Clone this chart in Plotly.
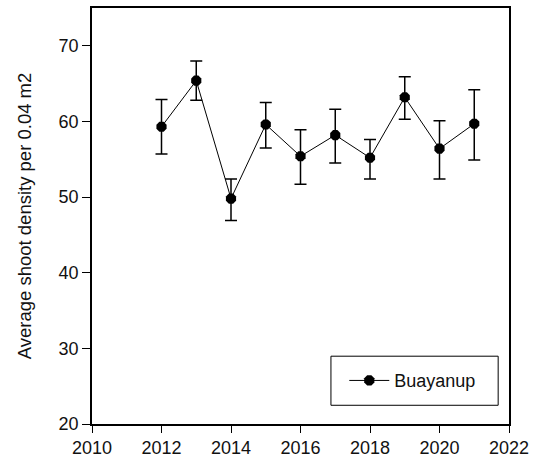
import plotly.graph_objects as go

# Annual mean shoot density with error bars
years = [2012, 2013, 2014, 2015, 2016, 2017, 2018, 2019, 2020, 2021]
density = [59.3, 65.4, 49.8, 59.6, 55.4, 58.2, 55.2, 63.2, 56.4, 59.7]
err_plus = [3.6, 2.6, 2.6, 2.9, 3.5, 3.4, 2.4, 2.7, 3.7, 4.5]
err_minus = [3.6, 2.6, 2.9, 3.1, 3.7, 3.7, 2.8, 2.9, 4.0, 4.8]
site_name = "Buayanup"

x_ticks = [2010, 2012, 2014, 2016, 2018, 2020, 2022]
y_ticks = [20, 30, 40, 50, 60, 70]

fig = go.Figure()
fig.add_trace(go.Scatter(
    x=years, y=density, name=site_name, mode="lines+markers",
    line=dict(color="black", width=1),
    marker=dict(symbol="octagon", size=11, color="black"),
    error_y=dict(type="data", symmetric=False, array=err_plus, arrayminus=err_minus,
                 color="black", thickness=1.5, width=6),
))

axis_font = dict(family="Liberation Sans, Arial, sans-serif", size=18, color="#111111")

# Framed legend box drawn behind the legend entry
fig.add_shape(type="rect", xref="paper", yref="paper",
              x0=0.573, x1=0.974, y0=0.045, y1=0.163,
              line=dict(color="black", width=1), fillcolor="white", layer="below")

fig.update_layout(
    width=535, height=468,
    margin=dict(l=92, r=26, t=6, b=44),
    plot_bgcolor="white", paper_bgcolor="white",
    font=axis_font,
    showlegend=True,
    legend=dict(x=0.605, y=0.104, xanchor="left", yanchor="middle",
                borderwidth=0, bgcolor="rgba(0,0,0,0)",
                font=dict(size=18), itemwidth=40),
    xaxis=dict(range=[2010, 2022], tickvals=x_ticks, ticks="outside", ticklen=7,
               tickcolor="black", showline=True, linecolor="black", linewidth=1.5,
               mirror=True, showgrid=False, zeroline=False, tickfont=axis_font),
    yaxis=dict(range=[20, 75], tickvals=y_ticks, ticks="outside", ticklen=8,
               tickcolor="black", showline=True, linecolor="black", linewidth=1.5,
               mirror=True, showgrid=False, zeroline=False, tickfont=axis_font,
               title=dict(text="Average shoot density per 0.04 m2",
                          font=dict(size=18.5, color="#111111"), standoff=22)),
)

fig.write_html("out.html")
